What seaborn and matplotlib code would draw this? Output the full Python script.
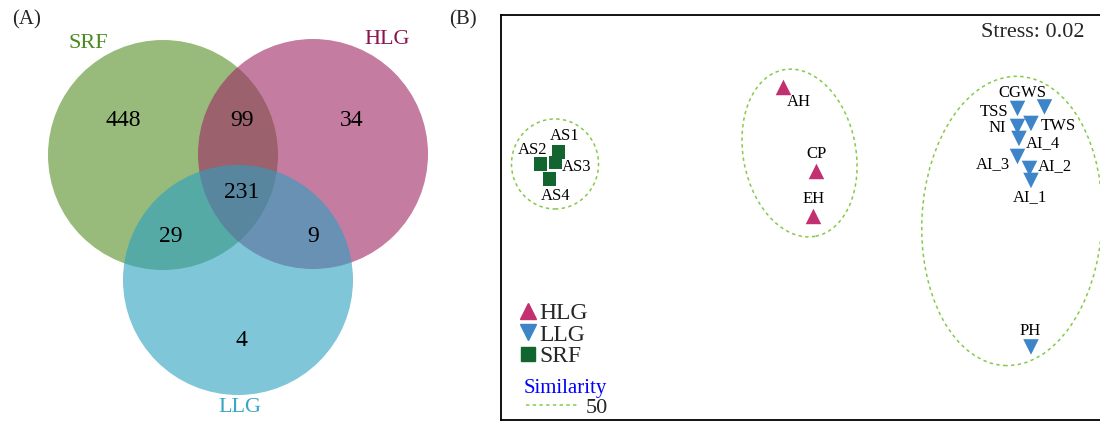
import matplotlib
matplotlib.use("Agg")
import matplotlib.pyplot as plt
import seaborn as sns
import pandas as pd
from matplotlib.patches import Circle, Ellipse
from matplotlib.lines import Line2D

# ---------------- data ----------------
venn_sets = ["SRF", "HLG", "LLG"]
venn_regions = ["SRF only", "SRF&HLG", "HLG only", "SRF&HLG&LLG", "SRF&LLG", "HLG&LLG", "LLG only"]
venn_counts = [448, 99, 34, 231, 29, 9, 4]

samples = ["AS1", "AS2", "AS3", "AS4", "AH", "CP", "EH",
           "CGWS", "TSS", "NI", "TWS", "AI_4", "AI_3", "AI_2", "AI_1", "PH"]
groups = ["SRF"] * 4 + ["HLG"] * 3 + ["LLG"] * 9
nmds1 = [-1.61, -1.73, -1.63, -1.67, -0.11, 0.11, 0.09,
         1.63, 1.45, 1.45, 1.54, 1.46, 1.45, 1.53, 1.54, 1.54]
nmds2 = [0.42, 0.34, 0.35, 0.24, 0.85, 0.29, -0.01,
         0.72, 0.71, 0.59, 0.61, 0.51, 0.39, 0.31, 0.23, -0.88]
stress = 0.02
similarity_level = 50

# ---------------- style / layout ----------------
sns.set_theme(style="white")
plt.rcParams["font.family"] = ["Liberation Serif", "DejaVu Serif"]

venn_fill = {"SRF": "#538e25", "HLG": "#9e2562", "LLG": "#2ba0c1"}
venn_label_col = {"SRF": "#4a8a1e", "HLG": "#8c1450", "LLG": "#3aa5c5"}
venn_centers = {"SRF": (163, 155), "HLG": (313, 154), "LLG": (238, 280)}
venn_radius = 115
venn_label_pos = {"SRF": (88, 43), "HLG": (387, 39), "LLG": (240, 408)}
region_pos = [(123, 121), (242, 121), (352, 121), (242, 193), (171, 236), (313, 236), (241, 340)]

palette = {"HLG": "#c2306f", "LLG": "#3d85c8", "SRF": "#12652f"}
markers = {"HLG": "^", "LLG": "v", "SRF": "s"}
sizes = {"HLG": 125, "LLG": 125, "SRF": 100}
ell_color = "#86c94a"
ellipses = {  # center, width, height, angle (NMDS units)
    "SRF": ((-1.633, 0.34), 0.58, 0.60, 0),
    "HLG": ((-0.003, 0.413), 0.75, 1.13, 11),
    "LLG": ((1.413, -0.04), 1.2, 1.93, -3),
}
label_offsets = {  # pixels (dx, dy up)
    "AS1": (6, 16), "AS2": (-8, 14), "AS3": (21, -5), "AS4": (6, -17),
    "AH": (15, -15), "CP": (0, 17), "EH": (0, 17),
    "CGWS": (-22, 14), "TSS": (-23, -4), "NI": (-20, -2), "TWS": (27, -3),
    "AI_4": (24, -5), "AI_3": (-25, -8), "AI_2": (25, 2), "AI_1": (-1, -17), "PH": (-1, 16),
}

fig = plt.figure(figsize=(11, 4.21), dpi=100)

# ---------------- Panel A: Venn ----------------
axA = fig.add_axes([0, 0, 500 / 1100, 1])
axA.set_xlim(0, 500)
axA.set_ylim(421, 0)
axA.set_aspect("equal")
axA.axis("off")
for s in venn_sets:
    axA.add_patch(Circle(venn_centers[s], venn_radius, facecolor=venn_fill[s],
                         edgecolor="none", alpha=0.6))
    axA.text(*venn_label_pos[s], s, color=venn_label_col[s], fontsize=16,
             ha="center", va="center")
for (x, y), c in zip(region_pos, venn_counts):
    axA.text(x, y, str(c), fontsize=17, ha="center", va="center", color="black")
fig.text(27 / 1100, 1 - 20 / 421, "(A)", fontsize=15, ha="center", va="center")
fig.text(463 / 1100, 1 - 20 / 421, "(B)", fontsize=15, ha="center", va="center")

# ---------------- Panel B: NMDS ----------------
df = pd.DataFrame({"NMDS1": nmds1, "NMDS2": nmds2, "group": groups, "sample": samples})
axB = fig.add_axes([501 / 1100, 1 - 420 / 421, 602 / 1100, 405 / 421])
for g, (c, w, h, a) in ellipses.items():
    axB.add_patch(Ellipse(c, w, h, angle=a, fill=False, edgecolor=ell_color,
                          linewidth=1.1, linestyle=(0, (2.2, 2.2))))
sns.scatterplot(data=df, x="NMDS1", y="NMDS2", hue="group", style="group",
                size="group", sizes=sizes, palette=palette, markers=markers,
                edgecolor="none", legend=False, ax=axB, zorder=3)
for _, r in df.iterrows():
    dx, dy = label_offsets[r["sample"]]
    axB.annotate(r["sample"], (r["NMDS1"], r["NMDS2"]), xytext=(dx, dy),
                 textcoords="offset pixels", ha="center", va="center",
                 fontsize=12, color="black", zorder=4)
axB.set_xlim(-1.993, 2.02)
axB.set_ylim(-1.367, 1.333)
axB.set_xticks([])
axB.set_yticks([])
axB.set_xlabel("")
axB.set_ylabel("")
for sp in axB.spines.values():
    sp.set_visible(True)
    sp.set_color("black")
    sp.set_linewidth(1.3)
axB.text(0.884, 0.958, f"Stress: {stress:.2f}", transform=axB.transAxes,
         fontsize=16, ha="center", va="center")

handles = [Line2D([], [], marker=markers[g], color=palette[g], ls="none",
                  markersize=11 if g != "SRF" else 10, label=g) for g in ["HLG", "LLG", "SRF"]]
leg1 = axB.legend(handles=handles, loc="upper left", bbox_to_anchor=(0.03, 0.29),
                  frameon=False, fontsize=17, handlelength=0.75, handletextpad=0.1,
                  labelspacing=0.0, borderpad=0, borderaxespad=0)
axB.add_artist(leg1)
axB.text(0.038, 1 - (388 - 15) / 405, "Similarity", transform=axB.transAxes,
         color="blue", fontsize=15, ha="left", va="center")
sim_handle = [Line2D([], [], color=ell_color, lw=1.1, ls=(0, (2.2, 2.2)),
                     label=str(similarity_level))]
leg2 = axB.legend(handles=sim_handle, loc="upper left",
                  bbox_to_anchor=(0.0415, 0.056), frameon=False, fontsize=16,
                  handlelength=2.3, handletextpad=0.4,
                  borderpad=0, borderaxespad=0)

fig.savefig("out.png", dpi=100)
